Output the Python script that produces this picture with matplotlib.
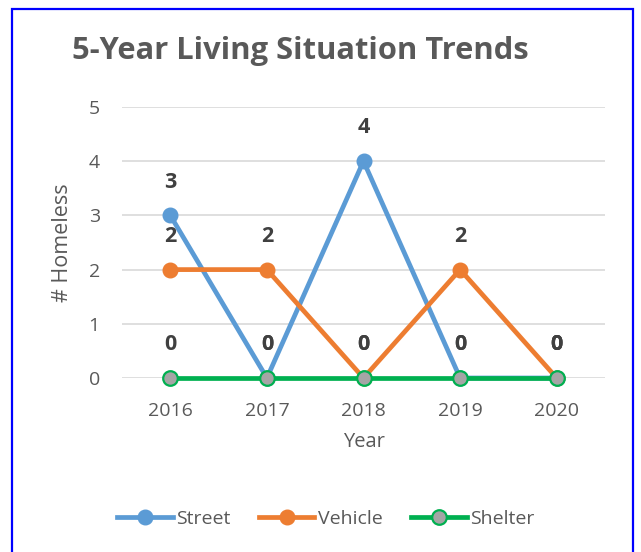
import matplotlib
matplotlib.use('Agg')
import matplotlib.pyplot as plt
from matplotlib.patches import Rectangle

years = ['2016', '2017', '2018', '2019', '2020']
street = [3, 0, 4, 0, 0]
vehicle = [2, 2, 0, 2, 0]
shelter = [0, 0, 0, 0, 0]

plt.rcParams['font.family'] = ['Open Sans', 'DejaVu Sans']

W, H = 641, 552
fig = plt.figure(figsize=(W / 100, H / 100), dpi=100)
# axes placed in pixel coords
ax = fig.add_axes([122 / W, 1 - 378 / H, (605 - 122) / W, (378 - 107) / H])

x = list(range(len(years)))
ax.plot(x, street, color='#5B9BD5', lw=3.4, marker='o', ms=10.5, mfc='#5B9BD5', mec='#5B9BD5',
        label='Street', zorder=3, clip_on=False)
ax.plot(x, vehicle, color='#ED7D31', lw=3.4, marker='o', ms=10.5, mfc='#ED7D31', mec='#ED7D31',
        label='Vehicle', zorder=4, clip_on=False)
ax.plot(x, shelter, color='#00B050', lw=3.4, marker='o', ms=10.5, mfc='#A5A5A5', mec='#00B050', mew=1.6,
        label='Shelter', zorder=5, clip_on=False)

# data labels above points
for series in (street, vehicle, shelter):
    for i, v in enumerate(series):
        ax.annotate(str(v), (i, v), xytext=(0, 24), textcoords='offset points',
                    ha='center', va='center', fontsize=15.5, fontweight='bold', color='#404040')

ax.set_xlim(-0.5, 4.5)
ax.set_ylim(0, 5)
ax.set_yticks(range(6))
ax.set_xticks(x)
ax.set_xticklabels(years)
ax.grid(axis='y', color='#D9D9D9', lw=1.2)
ax.set_axisbelow(True)
for s in ax.spines.values():
    s.set_visible(False)
ax.tick_params(length=0, labelsize=14, colors='#595959')
ax.tick_params(axis='x', pad=17)
ax.tick_params(axis='y', pad=16)
ax.set_xlabel('Year', fontsize=14.5, color='#595959', labelpad=9)
ax.set_ylabel('# Homeless', fontsize=15.5, color='#595959', labelpad=11)

fig.text(72 / W, 1 - 51 / H, '5-Year Living Situation Trends', fontsize=22.2, fontweight='bold',
         color='#595959', ha='left', va='center')

leg = fig.legend(loc='center', bbox_to_anchor=(326 / W, 1 - 519 / H), ncol=3, frameon=False,
                 fontsize=14, handlelength=2.85, columnspacing=1.45, handletextpad=0.2)
for t in leg.get_texts():
    t.set_color('#595959')

# blue frame, open at the bottom (runs past the figure edge)
fig.patches.append(Rectangle((12 / W, -0.05), (633 - 12) / W, 1.05 - 9 / H, transform=fig.transFigure,
                             fill=False, edgecolor='#0000FF', lw=1.6))

fig.savefig('out.png', dpi=100)
